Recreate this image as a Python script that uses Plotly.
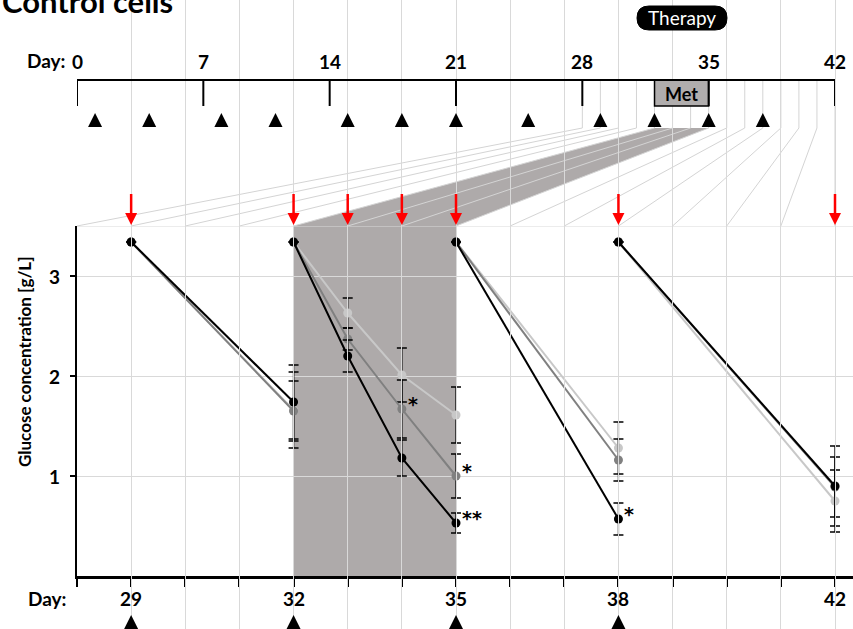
import plotly.graph_objects as go

W, H = 853, 629

# ---------------- data ----------------
days = [29, 32, None, 32, 33, 34, 35, None, 35, 38, None, 38, 42]
black = [3.34, 1.74, None, 3.34, 2.20, 1.18, 0.53, None, 3.34, 0.57, None, 3.34, 0.90]
black_err = [None, 0.37, None, None, 0.16, 0.18, 0.10, None, None, 0.16, None, None, 0.40]
dgray = [3.34, 1.65, None, 3.34, 2.37, 1.67, 1.00, None, 3.34, 1.16, None, 3.34, 0.89]
dgray_err = [None, 0.30, None, None, 0.11, 0.29, 0.22, None, None, 0.21, None, None, 0.30]
lgray = [3.34, 1.66, None, 3.34, 2.63, 2.01, 1.61, None, 3.34, 1.28, None, 3.34, 0.75]
lgray_err = [None, 0.38, None, None, 0.15, 0.27, 0.28, None, None, 0.26, None, None, 0.31]

sig_days = [34, 35, 35, 38]
sig_vals = [1.67, 1.00, 0.53, 0.57]
sig_text = ["*", "*", "**", "*"]

feed_days = [29, 32, 33, 34, 35, 38, 42]        # red arrows
sample_days = [29, 32, 35, 38]                  # triangles under bottom axis
bottom_ticks = [29, 32, 35, 38, 42]
y_ticks = [1, 2, 3]
top_tri_days = [1, 4, 8, 11, 15, 18, 21, 25, 29, 32, 35, 38]
week_ticks = [0, 7, 14, 21, 28, 35, 42]
met_start, met_end = 32, 35
zoom_days = list(range(28, 43))

# ---------------- geometry (pixels) ----------------
PX_L, PX_R = 77, 835
PLOT_TOP, PLOT_BOT = 226, 576
TL_Y, TL_TICK, FAN_Y = 80, 106, 128
BOT_PPD = (PX_R - PX_L) / 14.0
TOP_PPD = (PX_R - PX_L) / 42.0
X_END = 28 + (W - PX_L) / BOT_PPD


def top_px(d):
    return PX_L + d * TOP_PPD


def bot_px(d):
    return PX_L + (d - 28) * BOT_PPD


def px(x):
    return x / W


def py(y):
    return 1 - y / H


FONT = "Lato"
GRID = "#d9d9d9"
BAND = "#aeaaaa"

fig = go.Figure()

# series
for vals, err, col in [(lgray, lgray_err, "#c8c8c8"),
                       (dgray, dgray_err, "#808080"),
                       (black, black_err, "#000000")]:
    fig.add_trace(go.Scatter(
        x=days, y=vals, mode="lines+markers",
        line=dict(color=col, width=2),
        marker=dict(color=col, size=9),
        error_y=dict(type="data", array=err, color="black", thickness=1.3, width=5),
        connectgaps=False, showlegend=False, hoverinfo="skip", cliponaxis=False,
    ))

# red arrows (shaft + head)
sx, sy = [], []
for d in feed_days:
    sx += [d, d, None]
    sy += [194, 215, None]
fig.add_trace(go.Scatter(x=sx, y=sy, xaxis="x", yaxis="y2", mode="lines",
                         line=dict(color="#ff0000", width=2.5), showlegend=False,
                         hoverinfo="skip", cliponaxis=False))
fig.add_trace(go.Scatter(x=feed_days, y=[PLOT_TOP - 1] * len(feed_days), xaxis="x", yaxis="y2",
                         mode="markers", marker=dict(symbol="arrow-down", size=12, color="#ff0000",
                                                     line=dict(width=0)),
                         showlegend=False, hoverinfo="skip", cliponaxis=False))

# triangles under bottom axis
fig.add_trace(go.Scatter(x=sample_days, y=[615] * len(sample_days), xaxis="x", yaxis="y2",
                         mode="markers", marker=dict(symbol="arrow-up", size=14, color="black",
                                                     line=dict(width=0)),
                         showlegend=False, hoverinfo="skip", cliponaxis=False))

# triangles on top timeline
fig.add_trace(go.Scatter(x=top_tri_days, y=[113] * len(top_tri_days), xaxis="x2", yaxis="y2",
                         mode="markers", marker=dict(symbol="arrow-up", size=14, color="black",
                                                     line=dict(width=0)),
                         showlegend=False, hoverinfo="skip", cliponaxis=False))

shapes = []
# fan band (paper, beneath everything)
shapes.append(dict(type="path", xref="paper", yref="paper",
                   path=(f"M{px(top_px(met_start))},{py(FAN_Y)} L{px(top_px(met_end))},{py(FAN_Y)} "
                         f"L{px(bot_px(met_end))},{py(PLOT_TOP)} L{px(bot_px(met_start))},{py(PLOT_TOP)} Z"),
                   fillcolor=BAND, line=dict(width=0), layer="below"))
# fan lines
for d in zoom_days:
    shapes.append(dict(type="path", xref="paper", yref="paper",
                       path=(f"M{px(top_px(d))},{py(TL_Y)} L{px(top_px(d))},{py(FAN_Y)} "
                             f"L{px(bot_px(d))},{py(PLOT_TOP)}"),
                       line=dict(color="#d4d4d4", width=1), layer="below"))
# gray band in main plot
shapes.append(dict(type="rect", xref="x", yref="y", x0=met_start, x1=met_end, y0=0, y1=3.5,
                   fillcolor=BAND, line=dict(width=0), layer="below"))
# top border of plot
shapes.append(dict(type="line", xref="x", yref="y", x0=28, x1=X_END, y0=3.5, y1=3.5,
                   line=dict(color=GRID, width=1), layer="below"))
# Met box
shapes.append(dict(type="rect", xref="x2", yref="y2", x0=met_start, x1=met_end, y0=TL_Y, y1=TL_TICK,
                   fillcolor="#b0adad", line=dict(color="black", width=1.5)))
# timeline
shapes.append(dict(type="line", xref="x2", yref="y2", x0=0, x1=42, y0=TL_Y, y1=TL_Y,
                   line=dict(color="black", width=2)))
for d in week_ticks:
    shapes.append(dict(type="line", xref="x2", yref="y2", x0=d, x1=d, y0=TL_Y, y1=TL_TICK,
                       line=dict(color="black", width=2)))
# Therapy pill
cx, cy, hw, r = 682, 18, 45, 12
pts = [(cx - hw + r, cy - r), (cx + hw - r, cy - r), (cx + hw, cy - r), (cx + hw, cy),
       (cx + hw, cy + r), (cx + hw - r, cy + r), (cx - hw + r, cy + r), (cx - hw, cy + r),
       (cx - hw, cy), (cx - hw, cy - r), (cx - hw + r, cy - r)]
P = [f"{px(a)},{py(b)}" for a, b in pts]
shapes.append(dict(type="path", xref="paper", yref="paper",
                   path=(f"M{P[0]} L{P[1]} Q{P[2]} {P[3]} Q{P[4]} {P[5]} L{P[6]} "
                         f"Q{P[7]} {P[8]} Q{P[9]} {P[10]} Z"),
                   fillcolor="black", line=dict(color="black", width=1)))

ann = []
bold = dict(family=FONT, size=19, color="black", weight="bold")


def pann(x, y, text, font, **kw):
    d = dict(xref="paper", yref="paper", x=px(x), y=py(y), text=text, showarrow=False,
             xanchor="center", yanchor="middle", font=font)
    d.update(kw)
    return d


ann.append(pann(0, 1, "Control cells",
                dict(family=FONT, size=31, color="black", weight="bold"), xanchor="left"))
ann.append(pann(cx, cy, "Therapy", dict(family=FONT, size=19, color="white")))
ann.append(pann(46, 61, "Day:", bold))
ann.append(pann(47, 598, "Day:", bold))
ann.append(pann(24, 362, "Glucose concentration [g/L]",
                dict(family=FONT, size=17, color="black", weight="bold"), textangle=-90))
# top timeline labels
for d in week_ticks:
    ann.append(dict(xref="x2", yref="y2", x=d, y=61, text=str(d), showarrow=False, font=bold,
                    xanchor="center", yanchor="middle"))
# bottom axis labels
for d in bottom_ticks:
    ann.append(dict(xref="x", yref="y2", x=d, y=598, text=str(d), showarrow=False, font=bold,
                    xanchor="center", yanchor="middle"))
# y axis labels
for v in y_ticks:
    ann.append(dict(xref="paper", yref="y", x=px(62), y=v, text=str(v), showarrow=False,
                    font=bold, xanchor="right", yanchor="middle"))
ann.append(dict(xref="x2", yref="y2", x=(met_start + met_end) / 2, y=94, text="Met",
                showarrow=False, xanchor="center", yanchor="middle",
                font=dict(family=FONT, size=18, color="black", weight="bold")))
for d, v, t in zip(sig_days, sig_vals, sig_text):
    ann.append(dict(xref="x", yref="y", x=d, y=v, text=t, showarrow=False, xanchor="left",
                    yanchor="middle", xshift=4, yshift=5,
                    font=dict(family="DejaVu Sans", size=19, color="black", weight="bold")))

fig.update_layout(
    width=W, height=H, margin=dict(l=0, r=0, t=0, b=0),
    paper_bgcolor="white", plot_bgcolor="rgba(0,0,0,0)",
    showlegend=False, hovermode=False,
    shapes=shapes, annotations=ann,
    xaxis=dict(domain=[PX_L / W, 1], range=[28, X_END], tickvals=bottom_ticks,
               showticklabels=False,
               ticks="outside", ticklen=8, tickwidth=2, tickcolor="black",
               showgrid=True, gridcolor=GRID, gridwidth=1, zeroline=False,
               showline=True, linecolor="black", linewidth=2.5,
               minor=dict(dtick=1, tick0=28, ticks="outside", ticklen=8, tickwidth=2,
                          tickcolor="black", showgrid=True, gridcolor=GRID, gridwidth=1)),
    yaxis=dict(domain=[(H - PLOT_BOT) / H, (H - PLOT_TOP) / H], range=[0, 3.5],
               tickvals=y_ticks, showticklabels=False,
               ticks="outside", ticklen=5, tickwidth=1.5, tickcolor="black",
               showgrid=True, gridcolor=GRID, gridwidth=1, zeroline=False,
               showline=True, linecolor="black", linewidth=2),
    xaxis2=dict(domain=[PX_L / W, PX_R / W], range=[0, 42], anchor="y2", visible=False),
    yaxis2=dict(domain=[0, 1], range=[H, 0], anchor="x2", visible=False),
)

fig.write_html("out.html")
